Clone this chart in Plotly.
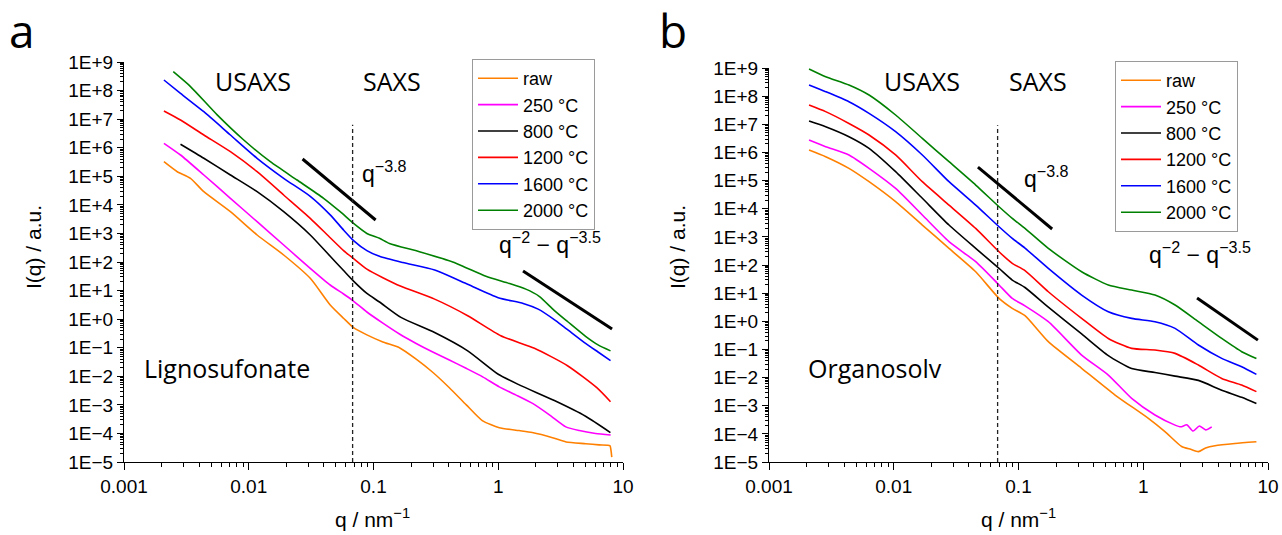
import plotly.graph_objects as go

W, H = 1282, 535

# ---------------- data (log10 values) ----------------
series_names = ["raw", "250 °C", "800 °C", "1200 °C", "1600 °C", "2000 °C"]
series_colors = ["#FF8000", "#FF00FF", "#000000", "#FF0000", "#0000FF", "#008000"]

# Panel a: Lignosulfonate
a_raw_lq = [-2.68, -2.573, -2.467, -2.36, -2.147, -1.933, -1.72, -1.507, -1.347, -1.24, -1.16, -1.053, -0.925, -0.792,
            -0.658, -0.528, -0.392, -0.256, -0.128, 0.008, 0.168, 0.272, 0.435, 0.544, 0.701, 0.808, 0.895, 0.904, 0.91]
a_raw_lI = [5.51, 5.16, 4.93, 4.46, 3.76, 2.945, 2.245, 1.43, 0.495, 0.03, -0.3, -0.55, -0.8, -1.0,
            -1.4, -1.85, -2.4, -3.0, -3.55, -3.8, -3.9, -3.97, -4.15, -4.3, -4.36, -4.4, -4.43, -4.6, -4.83]
a_250_lq = [-2.68, -2.547, -2.36, -2.147, -1.933, -1.72, -1.507, -1.347, -1.24, -1.166, -1.053, -0.925, -0.792,
            -0.658, -0.525, -0.392, -0.258, -0.125, 0.008, 0.14, 0.275, 0.41, 0.542, 0.65, 0.78, 0.901]
a_250_lI = [6.155, 5.745, 5.045, 4.23, 3.41, 2.595, 1.78, 1.195, 0.88, 0.65, 0.25, -0.14, -0.52,
            -0.85, -1.15, -1.43, -1.72, -2.02, -2.37, -2.65, -2.95, -3.35, -3.77, -3.9, -4.0, -4.055]
a_800_lq = [-2.547, -2.36, -2.147, -1.933, -1.72, -1.507, -1.347, -1.24, -1.16, -1.053, -0.952, -0.78, -0.51,
            -0.245, 0.0, 0.168, 0.45, 0.7, 0.899]
a_800_lI = [6.12, 5.63, 5.045, 4.46, 3.76, 2.945, 2.2, 1.7, 1.33, 0.9, 0.6, 0.06, -0.47,
            -1.11, -1.93, -2.3, -2.85, -3.4, -3.97]
a_1200_lq = [-2.68, -2.547, -2.36, -2.147, -1.933, -1.72, -1.507, -1.347, -1.24, -1.16, -1.053, -0.925, -0.78,
             -0.51, -0.245, 0.02, 0.29, 0.555, 0.79, 0.9]
a_1200_lI = [7.285, 6.97, 6.445, 5.86, 5.16, 4.345, 3.53, 2.85, 2.4, 2.12, 1.75, 1.45, 1.15,
             0.7, 0.12, -0.58, -1.02, -1.63, -2.4, -2.89]
a_1600_lq = [-2.68, -2.547, -2.36, -2.147, -1.933, -1.72, -1.507, -1.347, -1.24, -1.16, -1.053, -0.952, -0.765,
             -0.51, -0.245, 0.0, 0.2, 0.32, 0.46, 0.55, 0.7, 0.8, 0.9]
a_1600_lI = [8.37, 7.9, 7.26, 6.445, 5.63, 4.93, 4.3, 3.65, 3.12, 2.75, 2.4, 2.2, 1.98,
             1.72, 1.22, 0.75, 0.55, 0.35, -0.05, -0.35, -0.85, -1.15, -1.45]
a_2000_lq = [-2.605, -2.467, -2.253, -2.04, -1.827, -1.613, -1.4, -1.267, -1.16, -1.053, -0.952, -0.872, -0.632,
             -0.365, -0.258, -0.099, 0.088, 0.221, 0.328, 0.45, 0.56, 0.7, 0.8, 0.9]
a_2000_lI = [8.66, 8.14, 7.15, 6.27, 5.51, 4.87, 4.23, 3.76, 3.35, 3.0, 2.83, 2.65, 2.36,
             2.0, 1.8, 1.5, 1.25, 1.05, 0.8, 0.3, -0.1, -0.6, -0.9, -1.11]

# Panel b: Organosolv
b_lq = [-2.679, -2.546, -2.359, -2.198, -1.985, -1.771, -1.557, -1.343, -1.156, -1.05, -0.948, -0.761, -0.494,
        -0.28, -0.093, 0.094, 0.255, 0.442, 0.629, 0.789, 0.907]
b_raw_lq = [-2.679, -2.546, -2.359, -2.198, -1.985, -1.771, -1.557, -1.343, -1.156, -1.05, -0.948, -0.761, -0.494,
            -0.226, 0.041, 0.174, 0.308, 0.38, 0.442, 0.5, 0.575, 0.735, 0.907]
b_raw_lI = [6.086, 5.85, 5.435, 4.96, 4.25, 3.42, 2.59, 1.76, 0.815, 0.46, 0.2, -0.725, -1.67,
            -2.62, -3.45, -3.92, -4.45, -4.55, -4.63, -4.5, -4.42, -4.34, -4.28]
b_250_lq = [-2.679, -2.546, -2.359, -2.198, -1.985, -1.771, -1.557, -1.343, -1.156, -1.05, -0.948, -0.761, -0.494,
            -0.28, -0.093, 0.094, 0.255, 0.3, 0.35, 0.4, 0.45, 0.5, 0.549]
b_250_lI = [6.44, 6.205, 5.91, 5.435, 4.72, 3.776, 2.83, 2.118, 1.29, 0.815, 0.55, -0.015, -1.2,
            -1.91, -2.74, -3.33, -3.69, -3.75, -3.68, -3.9, -3.72, -3.86, -3.75]
b_800_lI = [7.117, 6.915, 6.56, 6.145, 5.316, 4.37, 3.42, 2.59, 1.88, 1.466, 1.2, 0.5, -0.45,
            -1.22, -1.68, -1.82, -1.95, -2.1, -2.45, -2.7, -2.92]
b_1200_lI = [7.685, 7.45, 7.03, 6.62, 5.91, 4.96, 4.13, 3.3, 2.47, 2.06, 1.8, 1.05, 0.104,
             -0.61, -0.962, -1.02, -1.14, -1.555, -2.03, -2.265, -2.5]
b_1600_lI = [8.396, 8.16, 7.804, 7.39, 6.74, 5.91, 4.96, 4.13, 3.36, 2.947, 2.6, 1.88, 0.933,
             0.34, 0.104, -0.015, -0.251, -0.844, -1.318, -1.614, -1.886]
b_2000_lI = [8.965, 8.69, 8.396, 8.04, 7.33, 6.5, 5.67, 4.84, 4.07, 3.657, 3.3, 2.59, 1.76,
             1.29, 1.11, 0.933, 0.578, -0.015, -0.61, -1.08, -1.32]

# guide lines (q, I)
a_slope1_q, a_slope1_I = [0.027, 0.104], [10**5.605, 10**3.47]
a_slope2_q, a_slope2_I = [1.58, 8.17], [10**1.685, 10**-0.345]
b_slope1_q, b_slope1_I = [0.0473, 0.186], [10**5.48, 10**3.28]
b_slope2_q, b_slope2_I = [2.7, 8.3], [10**0.83, 10**-0.67]
a_div_q, a_div_I = [0.068, 0.068], [1e-5, 10**6.8]
b_div_q, b_div_I = [0.068, 0.068], [1e-5, 10**6.97]

x_tickvals = [0.001, 0.01, 0.1, 1, 10]
x_ticktext = ["0.001", "0.01", "0.1", "1", "10"]
y_exps = list(range(9, -6, -1))
y_ticktext = ["1E+9", "1E+8", "1E+7", "1E+6", "1E+5", "1E+4", "1E+3", "1E+2", "1E+1", "1E+0",
              "1E\u22121", "1E\u22122", "1E\u22123", "1E\u22124", "1E\u22125"]

# -------------------------------------------------------------------------
def p(v):
    return [10 ** x for x in v]

fig = go.Figure()

a_sets = [(a_raw_lq, a_raw_lI), (a_250_lq, a_250_lI), (a_800_lq, a_800_lI),
          (a_1200_lq, a_1200_lI), (a_1600_lq, a_1600_lI), (a_2000_lq, a_2000_lI)]
b_sets = [(b_raw_lq, b_raw_lI), (b_250_lq, b_250_lI), (b_lq, b_800_lI),
          (b_lq, b_1200_lI), (b_lq, b_1600_lI), (b_lq, b_2000_lI)]

for (lq, lI), name, col in zip(a_sets, series_names, series_colors):
    fig.add_trace(go.Scatter(x=p(lq), y=p(lI), mode="lines", name=name,
                             line=dict(color=col, width=1.6, shape="spline", smoothing=0.6),
                             xaxis="x", yaxis="y", legend="legend"))
for (lq, lI), name, col in zip(b_sets, series_names, series_colors):
    fig.add_trace(go.Scatter(x=p(lq), y=p(lI), mode="lines", name=name,
                             line=dict(color=col, width=1.6, shape="spline", smoothing=0.6),
                             xaxis="x2", yaxis="y2", legend="legend2"))

for qx, iy, ax in [(a_slope1_q, a_slope1_I, "1"), (a_slope2_q, a_slope2_I, "1"),
                   (b_slope1_q, b_slope1_I, "2"), (b_slope2_q, b_slope2_I, "2")]:
    fig.add_trace(go.Scatter(x=qx, y=iy, mode="lines", showlegend=False, hoverinfo="skip",
                             line=dict(color="black", width=3),
                             xaxis="x" if ax == "1" else "x2", yaxis="y" if ax == "1" else "y2"))
for qx, iy, ax in [(a_div_q, a_div_I, "1"), (b_div_q, b_div_I, "2")]:
    fig.add_trace(go.Scatter(x=qx, y=iy, mode="lines", showlegend=False, hoverinfo="skip",
                             line=dict(color="#222222", width=1.3, dash="4px,3px"),
                             xaxis="x" if ax == "1" else "x2", yaxis="y" if ax == "1" else "y2"))

AX_FONT = dict(family="Liberation Sans, Arial, sans-serif", size=19, color="black")

def xaxis(domain, anchor):
    return dict(type="log", range=[-3, 1], domain=domain, anchor=anchor, automargin=False,
                showline=True, linecolor="black", linewidth=1.3, mirror=False,
                ticks="outside", ticklen=7, tickwidth=1.2, tickcolor="black",
                tickmode="array", tickvals=x_tickvals, ticktext=x_ticktext,
                tickfont=AX_FONT, showgrid=False, zeroline=False,
                minor=dict(ticks="outside", ticklen=4, tickwidth=1, tickcolor="black",
                           dtick="D1", showgrid=False))

def yaxis(domain, anchor):
    return dict(type="log", range=[-5, 9], domain=domain, anchor=anchor, automargin=False,
                showline=True, linecolor="black", linewidth=1.3, mirror=False,
                ticks="outside", ticklen=6, tickwidth=1.2, tickcolor="black",
                tickmode="array", tickvals=[10 ** e for e in y_exps], ticktext=y_ticktext,
                tickfont=AX_FONT, showgrid=False, zeroline=False,
                minor=dict(ticks="outside", ticklen=3, tickwidth=1, tickcolor="black",
                           dtick="D1", showgrid=False))

def px_x(x):
    return x / W

def px_y(y):
    return 1 - y / H

LEG_FONT = dict(family="Liberation Sans, Arial, sans-serif", size=18, color="black")
leg_common = dict(bgcolor="white", bordercolor="#9a9a9a", borderwidth=1, font=LEG_FONT,
                  xanchor="left", yanchor="top", tracegroupgap=0, itemwidth=40)

fig.update_layout(
    width=W, height=H, margin=dict(l=0, r=0, t=0, b=0, autoexpand=False),
    paper_bgcolor="white", plot_bgcolor="white",
    xaxis=xaxis([124 / W, 623 / W], "y"),
    yaxis=yaxis([px_y(462), px_y(62)], "x"),
    xaxis2=xaxis([769 / W, 1268 / W], "y2"),
    yaxis2=yaxis([px_y(462), px_y(68)], "x2"),
    legend=dict(x=px_x(472), y=px_y(59), **leg_common),
    legend2=dict(x=px_x(1115), y=px_y(61), **leg_common),
    showlegend=True,
)

CAL = "Open Sans, Lato, sans-serif"
ARI = "Liberation Sans, Arial, sans-serif"
ann = [
    ("a", 22, 30, CAL, 46, 0),
    ("b", 673, 30, CAL, 46, 0),
    ("USAXS", 253, 81, CAL, 25, 0),
    ("SAXS", 392, 81, CAL, 25, 0),
    ("USAXS", 922, 81, CAL, 25, 0),
    ("SAXS", 1038, 81, CAL, 25, 0),
    ("q<sup>\u22123.8</sup>", 384, 172, ARI, 23, 0),
    ("q<sup>\u22123.8</sup>", 1046, 177, ARI, 23, 0),
    ("q<sup>\u22122</sup> \u2212 q<sup>\u22123.5</sup>", 550, 243, ARI, 23, 0),
    ("q<sup>\u22122</sup> \u2212 q<sup>\u22123.5</sup>", 1200, 253, ARI, 23, 0),
    ("Lignosufonate", 227, 368, CAL, 25, 0),
    ("Organosolv", 875, 368, CAL, 25, 0),
    ("I(q) / a.u.", 33, 247, ARI, 21, -90),
    ("I(q) / a.u.", 677, 247, ARI, 21, -90),
    ("q / nm<sup>\u22121</sup>", 372, 518, ARI, 21, 0),
    ("q / nm<sup>\u22121</sup>", 1018, 518, ARI, 21, 0),
]
for text, x, y, fam, size, ang in ann:
    fig.add_annotation(text=text, x=px_x(x), y=px_y(y), xref="paper", yref="paper",
                       xanchor="center", yanchor="middle", showarrow=False, textangle=ang,
                       font=dict(family=fam, size=size, color="black"))

fig.write_html("out.html")
